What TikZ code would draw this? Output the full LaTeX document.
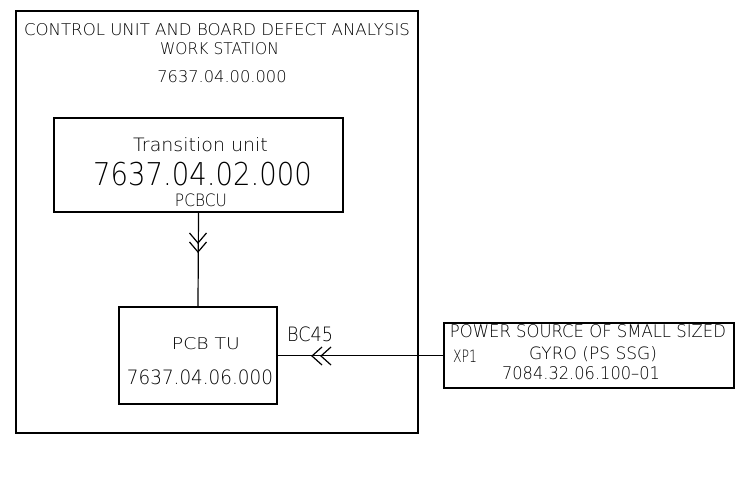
\documentclass[tikz,border=0pt]{standalone}
\usepackage{fontspec}
\setmainfont{DejaVu Sans ExtraLight}
\usepackage{graphicx}
\newcommand{\fitt}[3]{\resizebox{#1}{#2}{#3}}
\begin{document}
\begin{tikzpicture}[x=0.75pt,y=-0.75pt,
  blk/.style={draw,line width=0.9pt,inner sep=0pt},
  lbl/.style={inner sep=0pt,anchor=center},
  wire/.style={line width=0.9pt},
  chev/.style={line width=0.9pt}]
\useasboundingbox (0,0) rectangle (754,488);
% boxes
\node[blk,minimum width=402*0.75pt,minimum height=422*0.75pt] (ws) at (217,222) {};
\node[blk,minimum width=289*0.75pt,minimum height=94*0.75pt] (tu) at (198.5,165) {};
\node[blk,minimum width=158*0.75pt,minimum height=97*0.75pt] (pcb) at (198,355.5) {};
\node[blk,minimum width=290*0.75pt,minimum height=65*0.75pt] (ps) at (589,355.5) {};
% texts
\node[lbl] (t1) at (217,30) {\fitt{289.5pt}{9pt}{CONTROL UNIT AND BOARD DEFECT ANALYSIS}};
\node[lbl] (t2) at (219.5,49) {\fitt{89pt}{9pt}{WORK STATION}};
\node[lbl] (t3) at (222,77) {\fitt{97pt}{9pt}{7637.04.00.000}};
\node[lbl] (t4) at (200.5,145) {\fitt{101pt}{10.5pt}{Transition unit}};
\node[lbl] (t5) at (202.5,174.5) {\fitt{164pt}{17.5pt}{7637.04.02.000}};
\node[lbl] (t6) at (201,200.5) {\fitt{39pt}{9.5pt}{PCBCU}};
\node[lbl] (t7) at (206,344) {\fitt{51pt}{9pt}{PCB TU}};
\node[lbl] (t8) at (200,377.5) {\fitt{109.5pt}{11pt}{7637.04.06.000}};
\node[lbl] (t9) at (310,334.5) {\fitt{34.5pt}{11pt}{BC45}};
\node[lbl] (t10) at (588,331.5) {\fitt{207pt}{9.7pt}{POWER SOURCE OF SMALL SIZED}};
\node[lbl,anchor=base] (t11) at (593,360) {\fitt{96pt}{9.7pt}{GYRO (PS SSG)}};
\node[lbl] (t12) at (465,356.5) {\fitt{18pt}{9.3pt}{XP1}};
\node[lbl] (t13) at (581,373.5) {\fitt{118.5pt}{9.7pt}{7084.32.06.100--01}};
% connectors
\draw[wire] (tu.south) -- (pcb.north);
\draw[wire] (ps.west) -- (pcb.east);
% chevrons
\coordinate (d1) at (198,243);
\coordinate (d2) at (198,252);
\coordinate (l1) at (312,356);
\coordinate (l2) at (321,356);
\foreach \c in {d1,d2}{
  \draw[chev] ([shift={(-8.5,-10)}]\c) -- (\c) -- ([shift={(8.5,-10)}]\c);
}
\foreach \c in {l1,l2}{
  \draw[chev] ([shift={(10,-9)}]\c) -- (\c) -- ([shift={(10,9)}]\c);
}
\end{tikzpicture}
\end{document}
